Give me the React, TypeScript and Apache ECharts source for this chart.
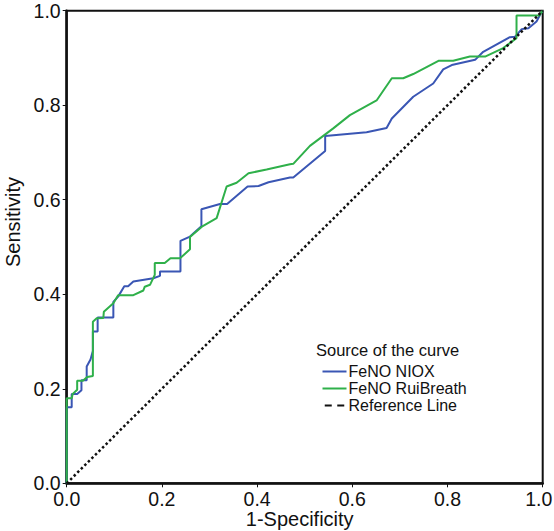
import React, { useEffect, useRef } from "react";
import * as echarts from "echarts";

const xTicks = [0, 0.2, 0.4, 0.6, 0.8, 1.0];
const seriesNames = ["FeNO NIOX", "FeNO RuiBreath", "Reference Line"];

const niox: [number, number][] = [
  [0, 0], [0, 0.161], [0.0105, 0.161], [0.0105, 0.189], [0.022, 0.189], [0.031, 0.197],
  [0.031, 0.218], [0.042, 0.218], [0.042, 0.247], [0.05, 0.262], [0.055, 0.28],
  [0.055, 0.321], [0.065, 0.321], [0.065, 0.351], [0.098, 0.351], [0.098, 0.384],
  [0.108, 0.395], [0.121, 0.417], [0.129, 0.417], [0.14, 0.427], [0.182, 0.434],
  [0.196, 0.439], [0.196, 0.448], [0.239, 0.448], [0.239, 0.513], [0.259, 0.522],
  [0.283, 0.544], [0.283, 0.58], [0.322, 0.591], [0.337, 0.591], [0.38, 0.628],
  [0.403, 0.629], [0.424, 0.637], [0.469, 0.647], [0.476, 0.647], [0.543, 0.703],
  [0.543, 0.735], [0.63, 0.743], [0.672, 0.752], [0.683, 0.772], [0.728, 0.818],
  [0.77, 0.846], [0.791, 0.876], [0.809, 0.885], [0.858, 0.896], [0.875, 0.913],
  [0.931, 0.944], [0.942, 0.945], [0.956, 0.961], [0.97, 0.963], [0.987, 0.977],
  [0.996, 0.994], [1, 1],
];

const ruiBreath: [number, number][] = [
  [0, 0], [0, 0.18], [0.0105, 0.18], [0.0126, 0.189], [0.022, 0.198], [0.022, 0.217],
  [0.034, 0.217], [0.043, 0.225], [0.055, 0.227], [0.055, 0.342], [0.063, 0.349],
  [0.077, 0.35], [0.078, 0.363], [0.098, 0.381], [0.108, 0.398], [0.14, 0.398],
  [0.161, 0.408], [0.164, 0.416], [0.175, 0.42], [0.185, 0.441], [0.185, 0.466],
  [0.206, 0.466], [0.218, 0.476], [0.238, 0.476], [0.259, 0.495], [0.259, 0.521],
  [0.284, 0.543], [0.315, 0.561], [0.336, 0.628], [0.357, 0.636], [0.382, 0.656],
  [0.42, 0.664], [0.469, 0.675], [0.476, 0.676], [0.511, 0.714], [0.56, 0.751],
  [0.595, 0.779], [0.651, 0.81], [0.683, 0.857], [0.707, 0.857], [0.728, 0.866],
  [0.781, 0.894], [0.812, 0.894], [0.847, 0.903], [0.879, 0.903], [0.917, 0.921],
  [0.945, 0.942], [0.945, 0.99], [0.993, 0.99], [1, 1],
];

const reference: [number, number][] = [[0, 0], [1, 1]];

const FONT = "'Liberation Sans', Arial, Helvetica, sans-serif";
const INK = "#111";

export default function App() {
  const ref = useRef<HTMLDivElement>(null);
  useEffect(() => {
    if (!ref.current) return;
    const chart = echarts.init(ref.current, undefined, { renderer: "svg" });
    const axisCommon = {
      type: "value" as const,
      min: 0,
      max: 1,
      interval: 0.2,
      nameLocation: "middle" as const,
      nameMoveOverlap: false,
      axisLine: { show: true, lineStyle: { color: INK, width: 2.5 } },
      axisTick: { show: true, length: 4, lineStyle: { color: INK, width: 1 } },
      axisLabel: {
        fontSize: 19.5,
        color: INK,
        fontFamily: FONT,
        formatter: (v: number) => v.toFixed(1),
      },
      splitLine: { show: false },
    };
    chart.setOption({
      animation: false,
      backgroundColor: "#fff",
      grid: {
        left: 66.7,
        right: 11.3,
        top: 10.7,
        bottom: 47.7,
        containLabel: false,
        outerBoundsMode: "none",
        show: true,
        borderColor: INK,
        borderWidth: 2,
        backgroundColor: "transparent",
      },
      title: {
        text: "Source of the curve",
        left: 316,
        top: 341,
        padding: 0,
        textStyle: { fontSize: 16.5, fontWeight: "normal", color: INK, fontFamily: FONT },
      },
      legend: {
        orient: "vertical",
        left: 322.5,
        top: 363,
        padding: 0,
        itemWidth: 24,
        itemHeight: 2,
        itemGap: 0,
        textStyle: { fontSize: 16, lineHeight: 17, color: INK, fontFamily: FONT, padding: [0, 0, 0, -3] },
        data: [
          { name: seriesNames[0], icon: "rect" },
          { name: seriesNames[1], icon: "rect" },
          { name: seriesNames[2], icon: "path://M0,0h7v2h-7z M12.5,0h7v2h-7z" },
        ],
      },
      xAxis: {
        ...axisCommon,
        name: "1-Specificity",
        nameGap: 26,
        nameTextStyle: { fontSize: 20, color: INK, fontFamily: FONT, padding: [0, 10, 0, 0] },
        axisLabel: {
          ...axisCommon.axisLabel,
          margin: 6,
          customValues: xTicks,
          formatter: (v: number) => (v >= 1 ? "{m|" + v.toFixed(1) + "}" : v.toFixed(1)),
          rich: {
            m: { fontSize: 19.5, color: INK, fontFamily: FONT, padding: [0, 8, 0, 0] },
          },
        },
      },
      yAxis: {
        ...axisCommon,
        name: "Sensitivity",
        nameGap: 44,
        nameTextStyle: { fontSize: 20, color: INK, fontFamily: FONT, padding: [0, 0, 0, 50] },
        axisLabel: { ...axisCommon.axisLabel, margin: 6 },
      },
      series: [
        {
          name: seriesNames[0],
          type: "line",
          data: niox,
          symbol: "none",
          lineStyle: { color: "#3a56b4", width: 2 },
          itemStyle: { color: "#3a56b4" },
        },
        {
          name: seriesNames[1],
          type: "line",
          data: ruiBreath,
          symbol: "none",
          lineStyle: { color: "#2fb04a", width: 2 },
          itemStyle: { color: "#2fb04a" },
        },
        {
          name: seriesNames[2],
          type: "line",
          data: reference,
          symbol: "none",
          lineStyle: { color: INK, width: 2.5, type: [2.5, 2.5] },
          itemStyle: { color: INK },
        },
      ],
    });
    return () => chart.dispose();
  }, []);
  return (
    <div
      ref={ref}
      style={{ position: "fixed", left: 0, top: 0, width: 554, height: 531, background: "#fff" }}
    />
  );
}
